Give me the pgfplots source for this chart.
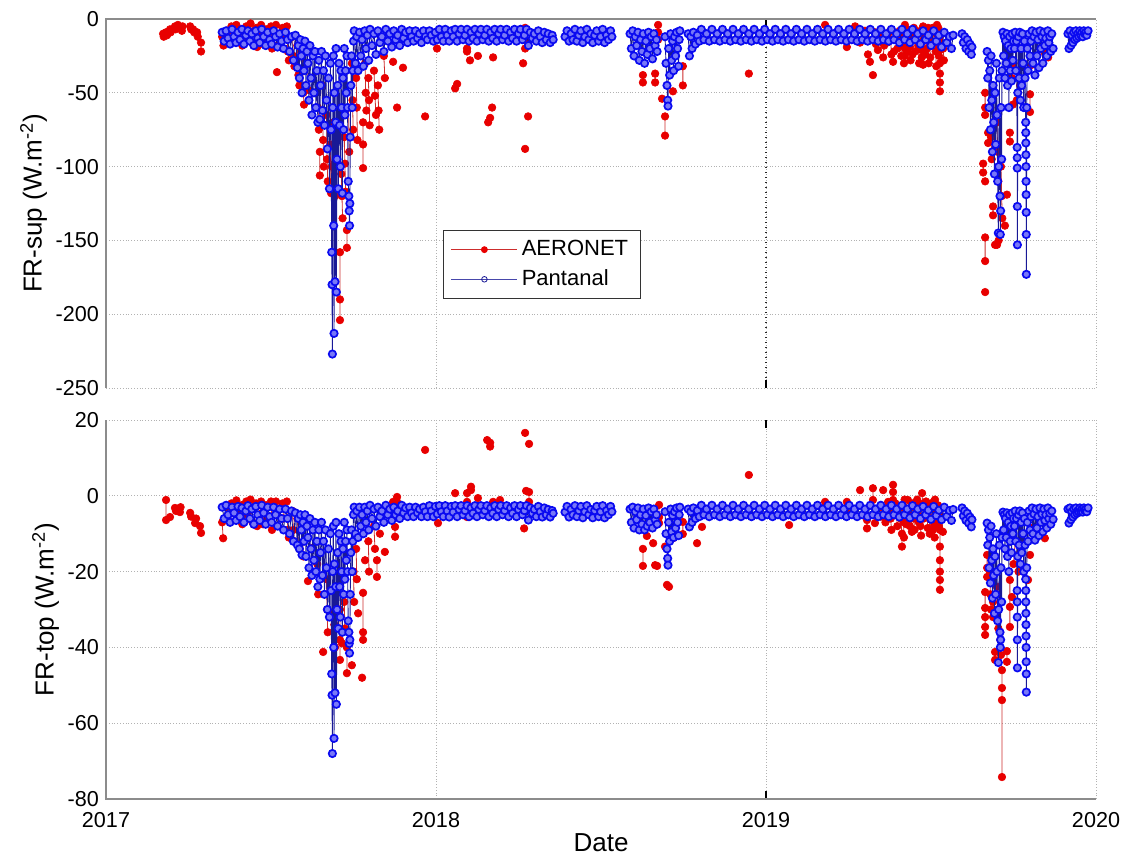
\documentclass[border=0pt]{standalone}
\usepackage{fontspec}
\setmainfont{Liberation Sans}
\usepackage{pgfplots}
\pgfplotsset{compat=1.18}
\definecolor{aerored}{RGB}{232,0,0}
\definecolor{aeroline}{RGB}{205,45,45}
\definecolor{pblue}{RGB}{10,10,240}
\definecolor{pline}{RGB}{25,25,150}
\pgfplotsset{
  frstyle/.style={
    scale only axis, width=495pt, xmin=0, xmax=3,
    xtick={0,1,2,3},
    unbounded coords=jump,
    clip mode=individual,
    axis line style={draw=none},
    tick style={draw=none},
    ymajorgrids, xmajorgrids,
    grid style={densely dotted, black!30, line width=0.5pt},
    tick label style={font=\fontsize{10.8}{13}\selectfont},
    xticklabel style={yshift=-3pt},
    label style={font=\fontsize{13}{15}\selectfont},
    ylabel shift=-2.5pt,
    xlabel shift=-3.5pt,
    extra x ticks={2},
    extra x tick labels={},
  },
  redpl/.style={draw=aeroline, line width=0.4pt, mark=*, mark size=1.9pt,
    mark options={fill=aerored, draw=aerored, solid, line width=0.3pt}},
  bluepl/.style={draw=pline, line width=0.45pt, mark=*, mark size=1.85pt,
    mark options={draw=pblue, fill=pblue!55!white, line width=0.85pt, solid}},
}
\begin{document}
\begin{tikzpicture}
% ---------------- top panel: FR-sup ----------------
\begin{axis}[frstyle, at={(53pt,235pt)}, anchor=south west, height=184.5pt,
  ymin=-250, ymax=0, ytick={-250,-200,-150,-100,-50,0},
  yticklabels={-250,-200,-150,-100,-50,0}, xticklabels={},
  ylabel={FR-sup (W.m\textsuperscript{-2})},
  extra x tick style={grid style={dotted, black!85, line width=0.6pt}, tick style={draw=black, line width=0.6pt}, major tick length=4pt},
  legend cell align=left,
  legend style={at={(0.340,0.428)}, anchor=north west, draw=black!80, fill=white,
    font=\fontsize{11}{13}\selectfont, inner xsep=4pt, inner ysep=3pt, row sep=1.5pt},
  legend image code/.code={\draw[mark repeat=2, mark phase=2, #1] plot coordinates {(0cm,0cm) (0.58cm,0cm) (1.16cm,0cm)};},
]
\draw[black!45, line width=0.7pt] (rel axis cs:0,0) -- (rel axis cs:0,1) -- (rel axis cs:1,1);
\addlegendimage{draw=aeroline, line width=0.4pt, mark=*, mark size=1.5pt, mark options={fill=aerored, draw=aerored, solid}}
\addlegendentry{AERONET}
\addlegendimage{draw=pline!80!white, line width=0.4pt, mark=o, mark size=1.4pt, mark options={draw=pline, solid, line width=0.4pt}}
\addlegendentry{Pantanal}
\addplot[redpl, forget plot] coordinates {
(.173,-10)(.175,-12)(nan,nan)(.182,-9)(.185,-11)(nan,nan)(.194,-7)(.196,-9)(nan,nan)
(.209,-5)(.211,-7)(nan,nan)(.218,-4)(.220,-6)(nan,nan)(.230,-8)(.232,-5)(nan,nan)
(.255,-5)(.258,-7)(nan,nan)(.264,-7)(.267,-9)(nan,nan)(.276,-9)(.278,-12)(nan,nan)(.288,-16)(.288,-22)(nan,nan)
(.352,-12)(.356,-18)(nan,nan)(.365,-9)(.368,-16)(nan,nan)(.380,-5)(.384,-8)(nan,nan)
(.395,-4)(.398,-10)(.400,-14)(nan,nan)(.410,-7)(.413,-18)(nan,nan)(.425,-5)(.428,-12)(nan,nan)
(.438,-3)(.441,-9)(.444,-16)(nan,nan)(.455,-6)(.458,-19)(nan,nan)(.470,-4)(.473,-11)(.476,-17)(nan,nan)
(.485,-7)(.488,-14)(nan,nan)(.500,-5)(.503,-20)(nan,nan)(.518,-36)(nan,nan)(.515,-4)(.518,-12)(.520,-18)(nan,nan)
(.535,-6)(.538,-14)(nan,nan)(.548,-5)(.551,-22)(.554,-28)(nan,nan)(.565,-12)(.568,-25)(.571,-32)(nan,nan)
(.580,-18)(.583,-38)(.586,-45)(nan,nan)(.595,-22)(.598,-50)(.600,-58)(nan,nan)(.610,-30)(.613,-48)(nan,nan)
(.648,-90)(.648,-106)(nan,nan)(.642,-60)(.645,-75)(nan,nan)(.655,-45)(.658,-82)(.660,-100)(nan,nan)
(.668,-65)(.670,-95)(.672,-110)(nan,nan)(.680,-85)(.682,-118)(.684,-100)(nan,nan)
(.690,-70)(.692,-98)(.694,-120)(nan,nan)(.709,-158)(.709,-190)(.709,-204)(nan,nan)
(.713,-105)(.715,-120)(.717,-135)(nan,nan)(.730,-143)(.730,-155)(nan,nan)(.722,-80)(.724,-98)(.726,-117)(nan,nan)
(.735,-60)(.737,-90)(nan,nan)(.745,-30)(.747,-55)(.749,-75)(nan,nan)(.758,-40)(.760,-60)(.762,-82)(nan,nan)
(.779,-70)(.779,-85)(.779,-101)(nan,nan)(.785,-30)(.787,-50)(.789,-62)(nan,nan)(.795,-40)(.797,-55)(.799,-72)(nan,nan)
(.812,-35)(.815,-52)(.818,-65)(nan,nan)(.824,-45)(.826,-62)(.828,-75)(nan,nan)(.842,-25)(.845,-40)(nan,nan)
(.870,-29)(nan,nan)(.882,-60)(nan,nan)(.900,-33)(nan,nan)(.967,-66)(nan,nan)(1.003,-20)(nan,nan)
(1.058,-47)(1.064,-44)(nan,nan)(1.094,-20)(1.094,-22)(nan,nan)(1.103,-28)(nan,nan)(1.127,-25)(nan,nan)
(1.158,-70)(1.164,-67)(nan,nan)(1.170,-60)(nan,nan)(1.173,-26)(nan,nan)(1.194,-13)(nan,nan)
(1.264,-30)(nan,nan)(1.270,-20)(1.270,-6)(nan,nan)(1.270,-88)(nan,nan)(1.279,-66)(nan,nan)(1.279,-16)(nan,nan)
(1.627,-38)(1.627,-43)(nan,nan)(1.664,-37)(1.664,-43)(nan,nan)(1.673,-4)(1.673,-9)(1.673,-14)(nan,nan)
(1.685,-54)(nan,nan)(1.694,-66)(1.694,-79)(nan,nan)(1.718,-49)(nan,nan)(1.748,-32)(1.748,-45)(nan,nan)(1.948,-37)(nan,nan)
(2.179,-4)(nan,nan)(2.245,-19)(nan,nan)(2.270,-5)(nan,nan)(2.285,-16)(nan,nan)(2.309,-24)(2.315,-29)(nan,nan)
(2.324,-38)(nan,nan)(2.339,-21)(2.342,-15)(nan,nan)(2.355,-26)(2.358,-18)(nan,nan)(2.367,-16)(2.370,-10)(nan,nan)
(2.300,-8)(2.303,-13)(nan,nan)(2.330,-9)(2.333,-17)(nan,nan)(2.348,-7)(2.350,-12)(nan,nan)(2.376,-8)(2.378,-14)(2.380,-24)(nan,nan)
(2.385,-29)(2.388,-22)(nan,nan)(2.395,-12)(2.398,-20)(nan,nan)(2.405,-8)(2.408,-15)(2.410,-25)(nan,nan)
(2.414,-10)(2.416,-18)(2.418,-30)(nan,nan)(2.426,-7)(2.428,-14)(2.429,-22)(nan,nan)(2.442,-11)(2.444,-24)(nan,nan)
(2.421,-4)(2.421,-12)(2.421,-20)(2.421,-25)(nan,nan)(2.430,-9)(2.433,-17)(nan,nan)(2.436,-19)(2.438,-28)(nan,nan)
(2.448,-6)(2.450,-14)(2.452,-22)(nan,nan)(2.460,-10)(2.462,-18)(2.464,-30)(nan,nan)(2.476,-5)(2.476,-15)(2.476,-31)(nan,nan)
(2.468,-8)(2.470,-21)(2.472,-26)(nan,nan)(2.480,-12)(2.482,-24)(nan,nan)(2.491,-6)(2.492,-15)(2.493,-30)(nan,nan)
(2.485,-8)(2.488,-20)(nan,nan)(2.495,-12)(2.498,-26)(nan,nan)(2.505,-6)(2.508,-16)(nan,nan)(2.518,-4)(2.518,-10)(nan,nan)
(2.512,-9)(2.514,-22)(2.516,-32)(nan,nan)(2.522,-6)(2.523,-18)(2.524,-25)(nan,nan)
(2.527,-15)(2.527,-21)(2.527,-30)(2.527,-37)(2.527,-43)(2.527,-49)(nan,nan)(2.535,-10)(2.537,-20)(2.539,-28)(nan,nan)
(2.664,-50)(2.664,-60)(2.664,-65)(nan,nan)(2.673,-77)(2.673,-84)(nan,nan)(2.658,-98)(2.658,-104)(nan,nan)(2.664,-110)(nan,nan)
(2.688,-127)(2.688,-133)(nan,nan)(2.664,-148)(2.664,-164)(nan,nan)(2.664,-185)(nan,nan)(2.694,-153)(2.700,-153)(2.705,-150)(nan,nan)
(2.724,-140)(nan,nan)(2.730,-119)(nan,nan)(2.739,-77)(2.739,-83)(nan,nan)(2.748,-58)(nan,nan)(2.800,-51)(2.800,-63)(nan,nan)
(2.806,-31)(nan,nan)(2.845,-23)(2.855,-26)(nan,nan)(2.680,-60)(2.682,-80)(2.684,-95)(nan,nan)(2.700,-70)(2.702,-90)(2.704,-110)(nan,nan)
(2.712,-100)(2.714,-120)(2.716,-135)(nan,nan)(2.745,-40)(2.750,-30)(nan,nan)(2.760,-55)(2.770,-45)(nan,nan)(2.780,-30)
};
\addplot[bluepl, forget plot] coordinates {
(.352,-9)(.358,-15)(.364,-8)(.370,-13)(.376,-17)(.382,-7)(.388,-12)(.394,-16)(.400,-9)(.406,-14)(.412,-7)(.418,-17)(.424,-11)(.430,-8)(.436,-15)(.442,-10)(.448,-18)(.454,-8)(.460,-13)(.466,-16)(.472,-7)(.478,-12)(.484,-18)(.490,-9)(.496,-14)(.502,-17)(.508,-8)(.514,-12)(.520,-19)(.526,-10)(.532,-15)(.538,-20)(.544,-9)(.550,-14)(.556,-22)(.562,-12)(.568,-28)(.574,-11)(.580,-33)
(.583,-18)(.586,-40)(.589,-14)(.592,-25)(.594,-50)(.597,-20)(.600,-35)(.603,-15)(.606,-45)(.609,-22)(.612,-30)(.615,-55)(.618,-18)(.621,-40)(.624,-65)(.627,-25)(.630,-50)(.633,-22)(.636,-60)(.639,-35)(.642,-70)(.645,-28)(.648,-68)(.650,-45)(.653,-22)(.656,-62)(.659,-35)(.662,-72)(.665,-25)(.668,-55)(.671,-88)(.674,-40)(.677,-115)(.680,-30)(.682,-75)(.684,-158)(.685,-180)(.686,-227)(.687,-60)(.689,-25)(.690,-140)(.691,-213)(.692,-50)(.694,-178)(.696,-70)(.697,-20)(.698,-185)(.700,-95)(.702,-45)(.704,-115)(.706,-30)(.708,-72)(.710,-100)(.712,-35)(.714,-60)(.716,-118)(.718,-40)(.720,-75)(.722,-20)(.724,-65)(.726,-35)(.728,-50)(.730,-25)(.732,-60)(.734,-110)(.736,-120)(.737,-130)(.738,-140)(.739,-125)(.740,-80)(.742,-45)(.744,-25)(.746,-60)(.748,-35)(.750,-15)
(.752,-8)(.756,-30)(.760,-12)(.764,-35)(.768,-9)(.772,-25)(.776,-14)(.780,-32)(.784,-8)(.788,-20)(.792,-11)(.796,-28)(.800,-7)(.806,-18)(.812,-10)(.818,-24)(.824,-8)(.830,-16)(.836,-12)(.842,-22)(.848,-7)(.854,-15)(.860,-10)(.866,-19)(.872,-8)(.878,-14)(.884,-11)(.890,-18)(.896,-7)(.902,-13)(.908,-9)(.914,-16)(.920,-8)(.926,-12)(.932,-15)(.938,-8)(.944,-13)(.950,-10)(.956,-16)(.962,-8)(.968,-12)(.974,-14)(.980,-8)(.986,-11)(.992,-15)(.998,-9)
(1.004,-14)(1.010,-7)(1.016,-12)(1.022,-15)(1.028,-7)(1.034,-11)(1.040,-15)(1.046,-8)(1.052,-12)(1.058,-7)(1.064,-15)(1.070,-10)(1.076,-7)(1.082,-14)(1.088,-11)(1.094,-7)(1.100,-15)(1.106,-9)(1.112,-13)(1.118,-7)(1.124,-15)(1.130,-10)(1.136,-7)(1.142,-14)(1.148,-11)(1.154,-7)(1.160,-15)(1.166,-9)(1.172,-13)(1.178,-7)(1.184,-15)(1.190,-10)(1.196,-7)(1.202,-14)(1.208,-11)(1.214,-7)(1.220,-15)(1.226,-9)(1.232,-13)(1.238,-7)(1.244,-15)(1.250,-10)(1.256,-7)(1.262,-14)(1.268,-11)(1.274,-7)(1.280,-18)(1.286,-9)(1.292,-13)(1.298,-10)(1.304,-15)(1.310,-8)(1.316,-12)(1.322,-16)(1.328,-9)(1.334,-14)(1.340,-10)(1.346,-16)(1.352,-11)(1.355,-14)(nan,nan)
(1.391,-12)(1.397,-8)(1.403,-15)(1.409,-10)(1.415,-14)(1.421,-7)(1.427,-15)(1.433,-11)(1.439,-8)(1.445,-16)(1.451,-12)(1.457,-7)(1.463,-14)(1.469,-10)(1.475,-16)(1.481,-11)(1.487,-8)(1.493,-15)(1.499,-12)(1.505,-7)(1.511,-16)(1.517,-11)(1.523,-14)(1.529,-8)(1.533,-12)(nan,nan)
(1.588,-10)(1.592,-20)(1.596,-8)(1.600,-25)(1.604,-12)(1.608,-18)(1.612,-9)(1.616,-28)(1.620,-14)(1.624,-22)(1.628,-10)(1.632,-30)(1.636,-15)(1.640,-24)(1.644,-9)(1.648,-20)(1.652,-12)(1.656,-27)(1.660,-10)(1.664,-18)(1.668,-14)(1.670,-22)(nan,nan)
(1.694,-12)(1.697,-30)(1.700,-45)(1.702,-55)(1.703,-59)(1.705,-20)(1.708,-38)(1.711,-10)(1.714,-28)(1.717,-15)(1.720,-35)(1.723,-12)(1.726,-25)(1.729,-9)(1.732,-20)(1.735,-32)(1.737,-14)(1.739,-8)(nan,nan)
(1.764,-10)(1.768,-25)(1.772,-12)(1.776,-20)(1.780,-9)(1.786,-17)(1.792,-11)(1.798,-15)(1.804,-7)(1.812,-14)(1.820,-10)(1.828,-15)(1.836,-7)(1.844,-14)(1.852,-10)(1.860,-15)(1.868,-7)(1.876,-14)(1.884,-10)(1.892,-15)(1.900,-7)(1.908,-14)(1.916,-10)(1.924,-15)(1.932,-7)(1.940,-14)(1.948,-10)(1.956,-15)(1.964,-7)(1.972,-14)(1.980,-10)(1.988,-15)(1.996,-7)
(2.004,-14)(2.012,-10)(2.020,-15)(2.028,-7)(2.036,-14)(2.044,-10)(2.052,-15)(2.060,-7)(2.068,-14)(2.076,-10)(2.084,-15)(2.092,-7)(2.100,-14)(2.108,-10)(2.116,-15)(2.124,-7)(2.132,-14)(2.140,-10)(2.148,-15)(2.156,-7)(2.164,-14)(2.172,-10)(2.180,-15)(2.188,-7)(2.196,-14)(2.204,-10)(2.212,-15)(2.220,-7)(2.228,-14)(2.236,-10)(2.244,-15)(2.252,-7)(2.260,-14)(2.268,-10)(2.276,-15)(2.284,-7)(2.292,-14)(2.300,-10)(2.308,-15)(2.316,-7)(2.324,-14)(2.332,-10)(2.340,-15)(2.348,-7)(2.356,-14)(2.364,-10)(2.372,-15)(2.380,-7)(2.388,-14)(2.396,-10)(2.404,-16)(2.412,-7)(2.420,-14)(2.428,-10)(2.436,-16)(2.444,-7)(2.452,-14)(2.460,-10)(2.468,-17)(2.476,-8)(2.484,-14)(2.492,-11)(2.500,-18)(2.508,-8)(2.516,-15)(2.524,-11)(2.532,-19)(2.540,-9)(2.548,-16)(2.556,-12)(2.562,-20)(2.567,-11)(nan,nan)
(2.594,-10)(2.598,-16)(2.602,-12)(2.606,-20)(2.610,-14)(2.614,-22)(2.618,-17)(2.622,-24)(2.624,-19)(nan,nan)
(2.670,-22)(2.672,-40)(2.674,-28)(2.676,-60)(2.678,-35)(2.680,-75)(2.682,-25)(2.684,-55)(2.686,-90)(2.688,-45)(2.690,-70)(2.692,-105)(2.694,-50)(2.696,-85)(2.698,-30)(2.700,-65)(2.702,-110)(2.704,-145)(2.705,-100)(2.707,-40)(2.709,-120)(2.710,-146)(2.711,-130)(2.712,-60)(2.714,-95)(2.715,-35)(2.718,-9)(2.720,-25)(2.722,-12)(2.724,-40)(2.726,-15)(2.728,-30)(2.730,-10)(2.732,-45)(2.734,-18)(2.736,-60)(2.738,-12)(2.740,-35)(2.742,-20)(2.744,-42)(2.746,-10)(2.748,-28)(2.750,-15)(2.753,-20)(2.755,-9)(2.757,-35)(2.759,-15)(2.761,-87)(2.7612,-94)(2.7614,-101)(2.7616,-127)(2.7618,-153)(2.763,-50)(2.765,-12)(2.767,-40)(2.769,-9)(2.771,-55)(2.773,-20)(2.775,-45)(2.777,-10)(2.779,-30)(2.781,-60)(2.783,-15)(2.785,-40)(2.787,-70)(2.7872,-77)(2.7874,-84)(2.7876,-92)(2.7878,-100)(2.788,-110)(2.7882,-119)(2.7884,-131)(2.7886,-146)(2.7888,-173)(2.790,-60)(2.792,-20)(2.794,-35)(2.797,-10)(2.800,-25)(2.803,-15)(2.806,-8)(2.809,-30)(2.812,-12)(2.815,-38)(2.818,-9)(2.821,-25)(2.824,-14)(2.827,-33)(2.830,-8)(2.833,-20)(2.836,-12)(2.839,-30)(2.842,-9)(2.845,-18)(2.848,-13)(2.851,-25)(2.854,-8)(2.857,-16)(2.860,-12)(2.863,-22)(2.866,-10)(2.870,-20)(nan,nan)
(2.915,-10)(2.918,-20)(2.921,-8)(2.924,-18)(2.927,-11)(2.930,-16)(2.933,-9)(2.936,-14)(2.939,-8)(2.942,-13)(2.945,-10)(2.948,-12)(2.951,-8)(2.954,-11)(2.957,-9)(2.960,-12)(2.963,-8)(2.966,-10)(2.969,-9)(2.972,-11)(2.976,-8)
};
\end{axis}
% ---------------- bottom panel: FR-top ----------------
\begin{axis}[frstyle, at={(53pt,29.5pt)}, anchor=south west, height=189.5pt,
  ymin=-80, ymax=20, ytick={-80,-60,-40,-20,0,20},
  yticklabels={-80,-60,-40,-20,0,20}, xticklabels={2017,2018,2019,2020},
  xlabel={Date}, ylabel={FR-top (W.m\textsuperscript{-2})},
  extra x tick style={tick style={draw=black, line width=0.6pt}, major tick length=4pt},
]
\draw[black!45, line width=0.7pt] (rel axis cs:0,1) -- (rel axis cs:0,0) -- (rel axis cs:1,0);
\addplot[redpl] coordinates {
(.182,-1.1)(.182,-6.4)(nan,nan)(.194,-5.6)(nan,nan)(.209,-3.2)(.212,-4)(nan,nan)(.224,-4.3)(.226,-3)(nan,nan)
(.255,-4.5)(.258,-5.5)(nan,nan)(.270,-7.2)(.273,-6)(nan,nan)(.288,-9.8)(.285,-8)(nan,nan)
(.352,-7)(.355,-11.2)(nan,nan)(.365,-3)(.368,-6)(nan,nan)(.380,-2)(.383,-4.5)(nan,nan)(.395,-1.2)(.398,-3.8)(.400,-6)(nan,nan)
(.410,-2.5)(.413,-7.5)(nan,nan)(.425,-1.5)(.428,-5)(nan,nan)(.438,-1)(.441,-3.5)(.444,-7)(nan,nan)(.455,-2)(.458,-8)(nan,nan)
(.470,-1.5)(.473,-4.5)(.476,-7.5)(nan,nan)(.485,-2.5)(.488,-6)(nan,nan)(.500,-1.5)(.503,-9)(nan,nan)(.515,-1.5)(.518,-5)(.520,-8)(nan,nan)
(.535,-2)(.538,-6)(nan,nan)(.548,-1.5)(.551,-9)(.554,-11)(nan,nan)(.565,-4)(.568,-9)(.571,-12)(nan,nan)(.580,-6)(.583,-13)(.586,-14)(nan,nan)
(.612,-22.5)(nan,nan)(.595,-9)(.598,-16)(nan,nan)(.624,-13.8)(nan,nan)(.658,-41.2)(nan,nan)(.640,-18)(.643,-26)(nan,nan)
(.668,-22)(.670,-30)(.672,-36)(nan,nan)(.679,-31)(nan,nan)(.690,-25)(.692,-34)(.694,-40)(nan,nan)(.709,-30)(.709,-38)(.709,-43.3)(nan,nan)
(.715,-38.9)(nan,nan)(.722,-28)(.724,-35)(nan,nan)(.730,-40)(.730,-46.8)(nan,nan)(.745,-44.7)(nan,nan)(.750,-20)(.752,-28)(nan,nan)
(.764,-31)(nan,nan)(.758,-14)(.760,-22)(nan,nan)(.776,-48)(nan,nan)(.779,-25.6)(.779,-36)(.779,-38)(nan,nan)(.785,-17)(nan,nan)
(.795,-12)(.797,-20)(nan,nan)(.821,-17)(.821,-21.4)(nan,nan)(.812,-8)(.815,-14)(nan,nan)(.845,-14.8)(nan,nan)(.830,-10)(nan,nan)
(.876,-8.2)(.876,-10.8)(nan,nan)(.882,-0.3)(.882,-1.6)(nan,nan)(.870,-1.6)(.870,-3.2)(nan,nan)
(.967,12.1)(nan,nan)(1.006,-7.2)(nan,nan)(1.058,0.7)(nan,nan)(1.094,0.7)(1.094,-1.6)(nan,nan)(1.094,-5.6)(nan,nan)(1.106,2.4)(1.106,1.5)(nan,nan)
(1.127,-0.6)(nan,nan)(1.139,-4.5)(nan,nan)(1.155,14.7)(1.164,14)(1.164,13)(nan,nan)(1.173,-1.6)(nan,nan)(1.194,-1.1)(nan,nan)
(1.267,-8.6)(nan,nan)(1.270,16.6)(nan,nan)(1.282,13.7)(nan,nan)(1.273,1.3)(1.282,1)(1.282,-1.6)(nan,nan)
(1.627,-14)(1.627,-18.5)(nan,nan)(1.639,-10.6)(nan,nan)(1.658,-12.5)(nan,nan)(1.664,-18.3)(1.670,-18.5)(nan,nan)(1.676,-2.4)(1.676,-5.6)(1.676,-7.2)(nan,nan)
(1.694,-13.4)(nan,nan)(1.700,-23.5)(1.706,-24)(nan,nan)(1.718,-11.2)(nan,nan)(1.748,-6.9)(1.748,-10.1)(nan,nan)(1.791,-12.5)(nan,nan)(1.806,-8.2)(nan,nan)
(1.948,5.5)(nan,nan)(2.070,-7.7)(nan,nan)(2.179,-1.6)(nan,nan)(2.245,-1.6)(2.245,-4.5)(nan,nan)
(2.285,1.5)(nan,nan)(2.306,-6.4)(2.306,-8.6)(nan,nan)(2.324,2)(2.324,-1.1)(nan,nan)(2.330,-7.2)(nan,nan)(2.355,1.5)(nan,nan)(2.370,-1.6)(nan,nan)
(2.385,2.9)(2.385,1)(2.385,-1.1)(nan,nan)(2.345,-3)(2.348,-5.5)(nan,nan)(2.360,-4)(2.362,-7)(nan,nan)(2.375,-3.5)(2.378,-6)(2.380,-9)(nan,nan)
(2.392,-2)(2.395,-5)(2.398,-8)(nan,nan)(2.405,-3)(2.408,-6)(2.412,-10)(2.412,-13.4)(nan,nan)(2.420,-1)(2.422,-4)(2.425,-7.5)(nan,nan)
(2.430,-1.1)(2.433,-5)(2.436,-8)(nan,nan)(2.445,-2)(2.448,-6)(2.450,-9)(nan,nan)(2.458,-1)(2.460,-4)(2.463,-7)(nan,nan)
(2.415,-2.5)(2.417,-7)(2.418,-11)(nan,nan)(2.440,-3)(2.442,-9.5)(nan,nan)(2.466,-2)(2.468,-8)(2.470,-10.5)(nan,nan)
(2.473,0.7)(2.475,-3)(2.478,-6)(nan,nan)(2.485,-1.5)(2.488,-5)(2.490,-8.5)(nan,nan)(2.500,-2)(2.503,-6)(2.506,-9)(nan,nan)
(2.494,-3)(2.496,-10)(nan,nan)(2.509,-1.5)(2.510,-7.5)(2.511,-11)(nan,nan)(2.521,-2.5)(2.523,-8)(nan,nan)
(2.512,-1)(2.515,-4.5)(2.518,-7)(nan,nan)(2.527,-5)(2.527,-9)(2.527,-13.4)(2.527,-17)(2.527,-20)(2.527,-22.2)(2.527,-24.8)(nan,nan)(2.533,-6)(2.536,-9.5)(nan,nan)
(2.670,-15.6)(2.670,-19)(2.670,-21.4)(nan,nan)(2.664,-25.4)(2.664,-29.6)(2.664,-32)(2.664,-34.6)(2.664,-36.7)(nan,nan)(2.688,-28)(2.688,-32)(nan,nan)
(2.694,-41.2)(2.694,-43.3)(nan,nan)(2.715,-46)(2.715,-50.7)(2.715,-53.9)(2.715,-74.2)(nan,nan)(2.730,-43.8)(2.730,-41)(nan,nan)
(2.739,-22.2)(2.739,-29.3)(2.739,-34.6)(nan,nan)(2.745,-26.7)(nan,nan)(2.794,-22.2)(nan,nan)(2.800,-15.6)(nan,nan)(2.806,-8.5)(nan,nan)
(2.845,-6.9)(2.845,-11.2)(nan,nan)(2.855,-7.2)(nan,nan)(2.678,-20)(2.680,-26)(2.682,-30)(nan,nan)(2.700,-24)(2.702,-30)(2.704,-35)(nan,nan)
(2.710,-38)(2.712,-42)(nan,nan)(2.750,-18)(2.755,-12)(nan,nan)(2.765,-20)(2.770,-15)(nan,nan)(2.780,-12)
};
\addplot[bluepl] coordinates {
(.352,-3)(.358,-6)(.364,-2.5)(.370,-5)(.376,-7)(.382,-3)(.388,-4.5)(.394,-6.5)(.400,-2.8)(.406,-5.5)(.412,-3.2)(.418,-7)(.424,-4)(.430,-2.6)(.436,-6)(.442,-3.5)(.448,-7.5)(.454,-2.8)(.460,-5)(.466,-6.5)(.472,-2.5)(.478,-4.5)(.484,-7.5)(.490,-3)(.496,-5.5)(.502,-7)(.508,-3)(.514,-5)(.520,-8)(.526,-3.5)(.532,-6)(.538,-9)(.544,-3.5)(.550,-6)(.556,-10)(.562,-4)(.568,-12)(.574,-4.5)(.580,-13)
(.583,-6)(.586,-14)(.589,-5)(.592,-9)(.594,-15.6)(.597,-7)(.600,-12)(.603,-5)(.606,-16)(.609,-8)(.612,-11)(.615,-19)(.618,-6)(.621,-14)(.624,-21)(.627,-9)(.630,-17)(.633,-7)(.636,-20)(.639,-12)(.642,-24)(.645,-9)(.648,-22)(.650,-15)(.653,-7)(.656,-21)(.659,-12)(.662,-26)(.665,-9)(.668,-19)(.671,-30)(.674,-14)(.677,-32)(.680,-10)(.682,-25)(.684,-47)(.685,-52.6)(.686,-68)(.687,-20)(.689,-8)(.690,-40)(.691,-64)(.692,-18)(.694,-52)(.696,-24)(.697,-7)(.698,-55)(.700,-30)(.702,-15)(.704,-35)(.706,-10)(.708,-24)(.710,-32)(.712,-12)(.714,-20)(.716,-36)(.718,-14)(.720,-26)(.722,-7)(.724,-22)(.726,-12)(.728,-17)(.730,-9)(.732,-20)(.734,-33)(.736,-36)(.737,-39)(.738,-41.5)(.739,-38)(.740,-26)(.742,-15)(.744,-9)(.746,-20)(.748,-12)(.750,-5)
(.752,-3)(.756,-10)(.760,-4)(.764,-11)(.768,-3)(.772,-8)(.776,-5)(.780,-10)(.784,-3)(.788,-7)(.792,-4)(.796,-9)(.800,-2.5)(.806,-6)(.812,-3.5)(.818,-8)(.824,-3)(.830,-5.5)(.836,-4)(.842,-7)(.848,-2.5)(.854,-5)(.860,-3.5)(.866,-6.5)(.872,-3)(.878,-5)(.884,-4)(.890,-6)(.896,-2.5)(.902,-4.5)(.908,-3.2)(.914,-5.5)(.920,-3)(.926,-4.5)(.932,-5.5)(.938,-3)(.944,-4.5)(.950,-3.5)(.956,-5.5)(.962,-3)(.968,-4.2)(.974,-5.5)(.980,-2.6)(.986,-4)(.992,-5.5)(.998,-2.8)
(1.004,-4.8)(1.010,-2.6)(1.016,-4.2)(1.022,-5.5)(1.028,-2.6)(1.034,-4)(1.040,-5.6)(1.046,-2.8)(1.052,-4.3)(1.058,-2.6)(1.064,-5.5)(1.070,-3.6)(1.076,-2.6)(1.082,-5)(1.088,-3.9)(1.094,-2.6)(1.100,-5.5)(1.106,-3.2)(1.112,-4.6)(1.118,-2.6)(1.124,-5.5)(1.130,-3.6)(1.136,-2.6)(1.142,-5)(1.148,-3.9)(1.154,-2.6)(1.160,-5.5)(1.166,-3.2)(1.172,-4.6)(1.178,-2.6)(1.184,-5.5)(1.190,-3.6)(1.196,-2.6)(1.202,-5)(1.208,-3.9)(1.214,-2.6)(1.220,-5.5)(1.226,-3.2)(1.232,-4.6)(1.238,-2.6)(1.244,-5.5)(1.250,-3.6)(1.256,-2.6)(1.262,-5)(1.268,-3.9)(1.274,-2.6)(1.280,-6.4)(1.286,-3.2)(1.292,-4.6)(1.298,-3.6)(1.304,-5.5)(1.310,-2.8)(1.316,-4.2)(1.322,-5.6)(1.328,-3.2)(1.334,-5)(1.340,-3.6)(1.346,-5.6)(1.352,-3.9)(1.355,-4.6)(nan,nan)
(1.391,-4.3)(1.397,-2.8)(1.403,-5.6)(1.409,-3.6)(1.415,-5)(1.421,-2.6)(1.427,-5.5)(1.433,-3.9)(1.439,-2.8)(1.445,-5.8)(1.451,-4.2)(1.457,-2.6)(1.463,-5)(1.469,-3.6)(1.475,-5.8)(1.481,-3.9)(1.487,-2.8)(1.493,-5.5)(1.499,-4.2)(1.505,-2.6)(1.511,-5.8)(1.517,-3.9)(1.523,-5)(1.529,-2.8)(1.533,-4.2)(nan,nan)
(1.588,-3.5)(1.592,-7)(1.596,-3)(1.600,-8.5)(1.604,-4.2)(1.608,-6.3)(1.612,-3.2)(1.616,-9)(1.620,-5)(1.624,-7.5)(1.628,-3.5)(1.632,-9)(1.636,-5.2)(1.640,-8)(1.644,-3.2)(1.648,-7)(1.652,-4.2)(1.656,-8.5)(1.660,-3.5)(1.664,-6.3)(1.668,-5)(1.670,-7.5)(nan,nan)
(1.694,-4.2)(1.697,-10)(1.700,-14)(1.702,-16.5)(1.703,-18.3)(1.705,-7)(1.708,-12)(1.711,-3.5)(1.714,-9.5)(1.717,-5.2)(1.720,-11)(1.723,-4.2)(1.726,-8.5)(1.729,-3.2)(1.732,-7)(1.735,-10.5)(1.737,-5)(1.739,-3)(nan,nan)
(1.764,-3.5)(1.768,-8.2)(1.772,-4.2)(1.776,-7)(1.780,-3.2)(1.786,-6)(1.792,-3.9)(1.798,-5.5)(1.804,-2.5)(1.812,-5)(1.820,-3.5)(1.828,-5.5)(1.836,-2.5)(1.844,-5)(1.852,-3.5)(1.860,-5.5)(1.868,-2.5)(1.876,-5)(1.884,-3.5)(1.892,-5.5)(1.900,-2.5)(1.908,-5)(1.916,-3.5)(1.924,-5.5)(1.932,-2.5)(1.940,-5)(1.948,-3.5)(1.956,-5.5)(1.964,-2.5)(1.972,-5)(1.980,-3.5)(1.988,-5.5)(1.996,-2.5)
(2.004,-5)(2.012,-3.5)(2.020,-5.5)(2.028,-2.5)(2.036,-5)(2.044,-3.5)(2.052,-5.5)(2.060,-2.5)(2.068,-5)(2.076,-3.5)(2.084,-5.5)(2.092,-2.5)(2.100,-5)(2.108,-3.5)(2.116,-5.5)(2.124,-2.5)(2.132,-5)(2.140,-3.5)(2.148,-5.5)(2.156,-2.5)(2.164,-5)(2.172,-3.5)(2.180,-5.5)(2.188,-2.5)(2.196,-5)(2.204,-3.5)(2.212,-5.5)(2.220,-2.5)(2.228,-5)(2.236,-3.5)(2.244,-5.5)(2.252,-2.5)(2.260,-5)(2.268,-3.5)(2.276,-5.5)(2.284,-2.5)(2.292,-5)(2.300,-3.5)(2.308,-5.5)(2.316,-2.5)(2.324,-5)(2.332,-3.5)(2.340,-5.5)(2.348,-2.5)(2.356,-5)(2.364,-3.5)(2.372,-5.5)(2.380,-2.5)(2.388,-5)(2.396,-3.5)(2.404,-5.6)(2.412,-2.5)(2.420,-5)(2.428,-3.5)(2.436,-5.8)(2.444,-2.6)(2.452,-5)(2.460,-3.5)(2.468,-6)(2.476,-2.8)(2.484,-5)(2.492,-3.8)(2.500,-6.2)(2.508,-2.8)(2.516,-5.2)(2.524,-3.8)(2.532,-6.3)(2.540,-3)(2.548,-5.4)(2.556,-3.9)(2.562,-6.5)(2.567,-3.6)(nan,nan)
(2.594,-3.2)(2.598,-5.3)(2.602,-4)(2.606,-6.5)(2.610,-4.6)(2.614,-7.2)(2.618,-5.6)(2.622,-8.2)(2.624,-6.3)(nan,nan)
(2.670,-7.2)(2.672,-13)(2.674,-9)(2.676,-19)(2.678,-11)(2.680,-23)(2.682,-8)(2.684,-17)(2.686,-27)(2.688,-14)(2.690,-21)(2.692,-31)(2.694,-16)(2.696,-26)(2.698,-10)(2.700,-20)(2.702,-33)(2.704,-44)(2.705,-30)(2.707,-13)(2.709,-36)(2.710,-40)(2.711,-38)(2.712,-19)(2.714,-28)(2.715,-11)(2.718,-4.3)(2.720,-9)(2.722,-5)(2.724,-14)(2.726,-6)(2.728,-11)(2.730,-4.5)(2.732,-16)(2.734,-7)(2.736,-20)(2.738,-5)(2.740,-12)(2.742,-8)(2.744,-15)(2.746,-4.5)(2.748,-10)(2.750,-6)(2.753,-8)(2.755,-4)(2.757,-12)(2.759,-6)(2.761,-25)(2.7612,-28)(2.7614,-32)(2.7616,-38)(2.7618,-45.4)(2.763,-16)(2.765,-5)(2.767,-13)(2.769,-4)(2.771,-18)(2.773,-7)(2.775,-15)(2.777,-4.5)(2.779,-10)(2.781,-20)(2.783,-6)(2.785,-13)(2.787,-22)(2.7872,-25)(2.7874,-28)(2.7876,-31)(2.7878,-34)(2.788,-37)(2.7882,-40)(2.7884,-43.8)(2.7886,-47)(2.7888,-51.8)(2.790,-19)(2.792,-7)(2.794,-12)(2.797,-4)(2.800,-9)(2.803,-5.5)(2.806,-3.2)(2.809,-10)(2.812,-4.8)(2.815,-11.7)(2.818,-3.5)(2.821,-8.5)(2.824,-5.5)(2.827,-10.5)(2.830,-3.2)(2.833,-7)(2.836,-4.8)(2.839,-9.5)(2.842,-3.5)(2.845,-6.5)(2.848,-5)(2.851,-8.5)(2.854,-3.2)(2.857,-6)(2.860,-4.6)(2.863,-7.5)(2.866,-4)(2.870,-6.2)(nan,nan)
(2.915,-3.5)(2.918,-7.2)(2.921,-3.2)(2.924,-6.3)(2.927,-4.2)(2.930,-5.6)(2.933,-3.5)(2.936,-5)(2.939,-3.2)(2.942,-4.6)(2.945,-3.9)(2.948,-4.3)(2.951,-3.2)(2.954,-4.2)(2.957,-3.5)(2.960,-4.3)(2.963,-3.2)(2.966,-3.9)(2.969,-3.5)(2.972,-4.2)(2.976,-3.2)
};
\end{axis}
\pgfresetboundingbox
\path[use as bounding box] (0,0) rectangle (561pt,429pt);
\end{tikzpicture}
\end{document}
